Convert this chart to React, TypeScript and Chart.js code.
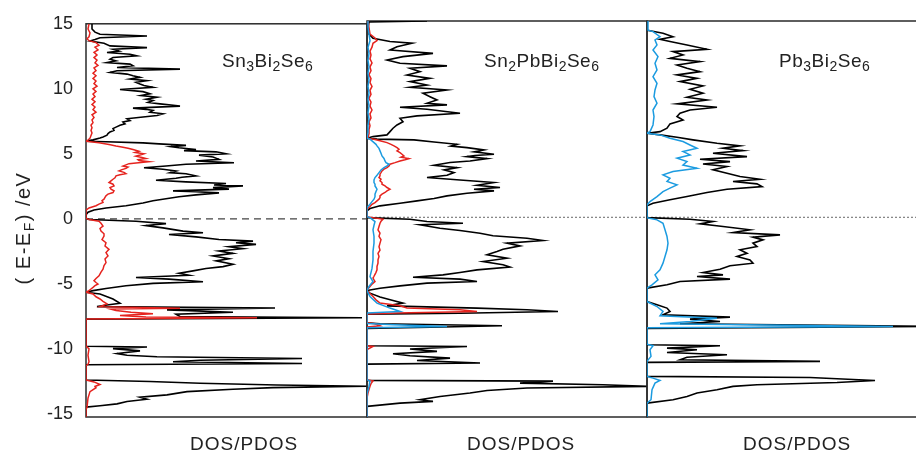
import React, { useEffect, useRef } from "react";
import { Chart, registerables } from "chart.js";
Chart.register(...registerables);

type Pt = [number, number]; // [energy (eV), DOS]

const energyTicks = [15, 10, 5, 0, -5, -10, -15];
const energyMin = -15.25;
const energyMax = 15;

const panelTitles: [string, boolean][][] = [
  [["Sn", false], ["3", true], ["Bi", false], ["2", true], ["Se", false], ["6", true]],
  [["Sn", false], ["2", true], ["PbBi", false], ["2", true], ["Se", false], ["6", true]],
  [["Pb", false], ["3", true], ["Bi", false], ["2", true], ["Se", false], ["6", true]],
];
const xAxisLabel = "DOS/PDOS";
const yAxisLabel: [string, boolean][] = [["( E-E", false], ["F", true], [") /eV", false]];

// ---------- Sn3Bi2Se6 ----------
const sn3Total: Pt[] = [
  [15, 6], [14.6, 6], [14.36, 9], [14.19, 14], [14.06, 61], [13.93, 14], [13.8, 9], [13.68, 4], [13.5, 18], [13.3, 24],
  [13.17, 61], [13.04, 27], [12.9, 33], [12.79, 21], [12.66, 44], [12.53, 51], [12.41, 27], [12.28, 24], [12.15, 30], [12.02, 21],
  [11.9, 44], [11.77, 47], [11.64, 31], [11.51, 94], [11.39, 31], [11.26, 24], [11.13, 41], [11.0, 47], [10.88, 54], [10.75, 44],
  [10.62, 61], [10.5, 50], [10.37, 54], [10.25, 58], [10.11, 67], [9.94, 34], [9.78, 57], [9.61, 64], [9.48, 55], [9.35, 71],
  [9.2, 60], [9.1, 67], [8.95, 62], [8.84, 74], [8.67, 94], [8.51, 47], [8.42, 60], [8.33, 67], [8.2, 64], [8.08, 77],
  [7.95, 71], [7.83, 57], [7.7, 41], [7.55, 44], [7.44, 37], [7.3, 39], [7.19, 34], [7.05, 30], [6.94, 27], [6.8, 28],
  [6.68, 24], [6.55, 22], [6.43, 21], [6.3, 17], [6.22, 14], [6.07, 7], [5.97, 0],
  [5.92, 20], [5.84, 57], [5.76, 73], [5.65, 100], [5.55, 85], [5.46, 93], [5.33, 110], [5.24, 98], [5.15, 130], [5.0, 140],
  [4.9, 113], [4.75, 127], [4.57, 133], [4.44, 110], [4.31, 148], [4.19, 100], [4.06, 80], [3.93, 58], [3.81, 77], [3.68, 90],
  [3.55, 84], [3.47, 100], [3.3, 110], [3.2, 96], [3.12, 90], [2.96, 70], [2.84, 100], [2.71, 140], [2.6, 128], [2.53, 157],
  [2.4, 127], [2.28, 143], [2.15, 87], [2.08, 110], [1.99, 133], [1.84, 110], [1.69, 93], [1.54, 80], [1.39, 67], [1.21, 57],
  [1.0, 40], [0.83, 20], [0.67, 8], [0.5, 2], [0.3, 0], [0.05, 0],
  [-0.06, 3], [-0.19, 50], [-0.37, 80], [-0.52, 60], [-0.7, 77], [-0.95, 97], [-1.08, 117], [-1.21, 83], [-1.39, 110], [-1.59, 133],
  [-1.72, 167], [-1.84, 150], [-1.97, 170], [-2.15, 143], [-2.3, 157], [-2.48, 133], [-2.66, 147], [-2.86, 127], [-3.07, 143], [-3.24, 130],
  [-3.5, 147], [-3.68, 137], [-3.83, 120], [-4.01, 107], [-4.19, 93], [-4.34, 103], [-4.52, 50], [-4.64, 83], [-4.85, 117], [-4.97, 67],
  [-5.15, 40], [-5.36, 20], [-5.53, 7], [-5.65, 0], [-5.79, 14],
  [-6.17, 27], [-6.5, 34], [-6.63, 21], [-6.76, 11], [-6.86, 189], [-7.01, 81], [-7.19, 147], [-7.35, 90], [-7.52, 94], [-7.62, 276],
  [-7.72, 0], [-9.81, 0], [-9.86, 61], [-9.99, 27], [-10.16, 54], [-10.37, 31], [-10.5, 41], [-10.62, 71], [-10.75, 216], [-10.88, 114],
  [-11.0, 87], [-11.13, 216], [-11.23, 0], [-12.4, 0], [-12.52, 64], [-12.65, 114], [-12.79, 191], [-12.89, 281], [-12.99, 187], [-13.12, 147],
  [-13.3, 101], [-13.55, 81], [-13.73, 54], [-13.88, 61], [-14.06, 41], [-14.24, 31], [-14.39, 14], [-14.49, 0], [-15.25, 0],
];
const sn3SnPdos: Pt[] = [
  [15, 3], [14.6, 2], [14.3, 4], [14.0, 3], [13.85, 1], [13.7, 3], [13.55, 10], [13.35, 13], [13.2, 9], [13.0, 12],
  [12.8, 8], [12.6, 11], [12.4, 8], [12.2, 11], [12.0, 9], [11.8, 12], [11.6, 8], [11.4, 10], [11.2, 7], [11.0, 10],
  [10.8, 7], [10.6, 10], [10.4, 8], [10.2, 11], [10.0, 7], [9.8, 10], [9.6, 7], [9.4, 9], [9.2, 6], [9.0, 9],
  [8.8, 6], [8.6, 9], [8.4, 7], [8.2, 10], [8.0, 6], [7.8, 8], [7.6, 6], [7.4, 7], [7.2, 5], [7.0, 6],
  [6.8, 5], [6.6, 6], [6.4, 5], [6.2, 4], [6.05, 2], [5.97, 0],
  [5.84, 13], [5.71, 23], [5.6, 30], [5.51, 37], [5.42, 42], [5.33, 47], [5.2, 53], [5.1, 49], [5.0, 58], [4.9, 54],
  [4.82, 50], [4.72, 56], [4.64, 60], [4.55, 52], [4.49, 53], [4.39, 63], [4.3, 50], [4.24, 43], [4.15, 40], [4.06, 37],
  [3.97, 42], [3.88, 40], [3.78, 36], [3.68, 33], [3.57, 38], [3.47, 40], [3.38, 34], [3.3, 30], [3.15, 29], [3.04, 27],
  [2.92, 25], [2.79, 23], [2.66, 27], [2.53, 28], [2.4, 24], [2.28, 25], [2.15, 28], [2.02, 27], [1.9, 22], [1.77, 20],
  [1.64, 19], [1.51, 18], [1.39, 16], [1.26, 17], [1.13, 13], [1.0, 10], [0.83, 3], [0.67, 0], [0.05, 0],
  [-0.06, 3], [-0.19, 13], [-0.35, 15], [-0.57, 17], [-0.75, 14], [-0.95, 15], [-1.15, 18], [-1.33, 18], [-1.6, 16], [-1.84, 20],
  [-2.1, 19], [-2.35, 23], [-2.6, 20], [-2.86, 22], [-3.1, 19], [-3.37, 20], [-3.6, 18], [-3.88, 17], [-4.1, 15], [-4.39, 13],
  [-4.6, 10], [-4.77, 8], [-4.9, 10], [-5.02, 12], [-5.15, 9], [-5.28, 7], [-5.4, 5], [-5.53, 3], [-5.65, 0], [-5.79, 7],
  [-6.0, 10], [-6.17, 14], [-6.35, 17], [-6.55, 21], [-6.76, 14], [-6.88, 94], [-6.95, 25], [-7.05, 30], [-7.2, 45], [-7.3, 67],
  [-7.45, 34], [-7.55, 60], [-7.62, 171], [-7.72, 0], [-9.8, 0], [-10.0, 3], [-10.5, 2], [-11.0, 3], [-11.2, 2], [-11.3, 0],
  [-12.4, 0], [-12.55, 8], [-12.75, 14], [-12.9, 9], [-13.0, 10], [-13.3, 4], [-13.8, 2], [-14.5, 1], [-14.7, 0], [-15.25, 0],
];

// ---------- Sn2PbBi2Se6 ----------
const sn2pbTotal: Pt[] = [
  [15, 60], [14.92, 2], [14.5, 1], [14.0, 2], [13.68, 6], [13.43, 23], [13.3, 45], [13.04, 30], [12.79, 23], [12.53, 66],
  [12.28, 36], [12.02, 20], [11.77, 33], [11.57, 80], [11.39, 43], [11.13, 53], [10.88, 40], [10.62, 63], [10.37, 43], [10.11, 60],
  [9.94, 43], [9.73, 80], [9.48, 56], [9.22, 63], [8.97, 70], [8.72, 60], [8.59, 80], [8.41, 33], [8.26, 60], [7.95, 93],
  [7.75, 50], [7.57, 33], [7.31, 36], [7.06, 30], [6.81, 26], [6.55, 23], [6.3, 20], [6.17, 6], [6.04, 0],
  [5.98, 10], [5.92, 47], [5.76, 67], [5.58, 90], [5.45, 84], [5.33, 100], [5.15, 117], [5.0, 107], [4.82, 127], [4.72, 108],
  [4.64, 100], [4.49, 120], [4.31, 103], [4.19, 83], [3.98, 67], [3.8, 90], [3.63, 77], [3.42, 87], [3.22, 80], [3.04, 60],
  [2.86, 93], [2.66, 127], [2.45, 110], [2.28, 133], [2.15, 107], [2.02, 127], [1.84, 100], [1.64, 80], [1.44, 67], [1.26, 50],
  [1.08, 33], [0.88, 13], [0.67, 3], [0.5, 0], [0.05, 0],
  [-0.02, 0], [-0.14, 43], [-0.32, 60], [-0.45, 96], [-0.57, 53], [-0.83, 73], [-1.0, 93], [-1.21, 113], [-1.41, 126], [-1.59, 160],
  [-1.77, 176], [-1.97, 140], [-2.18, 153], [-2.43, 136], [-2.61, 130], [-2.86, 120], [-3.12, 140], [-3.37, 116], [-3.62, 136], [-3.8, 143],
  [-4.01, 110], [-4.21, 93], [-4.39, 76], [-4.57, 46], [-4.72, 93], [-4.9, 110], [-5.02, 60], [-5.23, 33], [-5.41, 13], [-5.59, 0],
  [-5.79, 3], [-6.09, 13], [-6.35, 26], [-6.55, 36], [-6.76, 20], [-6.93, 110], [-7.06, 160], [-7.19, 191], [-7.32, 93], [-7.39, 0],
  [-8.05, 0], [-8.13, 13], [-8.28, 135], [-8.38, 76], [-8.48, 0], [-9.81, 0], [-9.86, 100], [-10.06, 43], [-10.24, 70], [-10.42, 26],
  [-10.57, 43], [-10.75, 83], [-10.93, 50], [-11.13, 113], [-11.21, 0], [-12.45, 0], [-12.51, 186], [-12.66, 153], [-12.79, 236], [-12.91, 280],
  [-13.04, 160], [-13.22, 120], [-13.42, 103], [-13.68, 73], [-13.93, 53], [-14.06, 66], [-14.19, 33], [-14.44, 0], [-15.25, 0],
];
const sn2pbSnPdos: Pt[] = [
  [15, 1], [14.5, 2], [14.0, 3], [13.7, 8], [13.5, 10], [13.3, 6], [13.0, 5], [12.7, 3], [12.4, 4], [12.1, 3],
  [11.8, 5], [11.5, 3], [11.2, 4], [10.9, 2], [10.6, 4], [10.3, 3], [10.0, 5], [9.7, 3], [9.4, 4], [9.1, 2],
  [8.8, 4], [8.5, 3], [8.2, 5], [7.9, 3], [7.6, 4], [7.3, 2], [7.0, 3], [6.7, 2], [6.4, 2], [6.1, 1], [6.04, 0],
  [5.97, 7], [5.84, 14], [5.71, 20], [5.58, 24], [5.46, 27], [5.33, 30], [5.2, 32], [5.08, 30], [4.95, 33], [4.82, 35],
  [4.69, 37], [4.6, 34], [4.49, 42], [4.4, 38], [4.31, 33], [4.18, 28], [4.06, 23], [3.93, 22], [3.8, 20], [3.68, 17],
  [3.55, 15], [3.42, 14], [3.3, 13], [3.17, 13], [3.04, 12], [2.92, 14], [2.79, 13], [2.66, 15], [2.53, 15], [2.4, 18],
  [2.28, 20], [2.15, 23], [2.02, 20], [1.9, 18], [1.77, 15], [1.64, 13], [1.51, 13], [1.39, 12], [1.26, 10], [1.13, 8],
  [1.0, 5], [0.83, 3], [0.62, 0], [0.05, 0],
  [-0.02, 6], [-0.14, 16], [-0.3, 14], [-0.45, 13], [-0.7, 12], [-0.95, 11], [-1.2, 13], [-1.45, 12], [-1.7, 14], [-1.97, 13],
  [-2.25, 12], [-2.5, 13], [-2.75, 11], [-2.99, 12], [-3.25, 11], [-3.5, 11], [-3.75, 10], [-4.01, 10], [-4.2, 9], [-4.35, 8],
  [-4.5, 7], [-4.64, 6], [-4.78, 7], [-4.9, 8], [-5.1, 5], [-5.28, 3], [-5.45, 1], [-5.59, 0], [-6.04, 6], [-6.3, 9],
  [-6.55, 13], [-6.76, 33], [-6.93, 40], [-7.06, 93], [-7.19, 110], [-7.3, 30], [-7.39, 0], [-8.05, 0], [-8.13, 8], [-8.28, 13],
  [-8.38, 0], [-9.8, 0], [-9.86, 6], [-10.1, 0], [-12.4, 0], [-12.5, 6], [-12.7, 4], [-12.9, 3], [-13.4, 1], [-13.8, 0],
  [-15.25, 0],
];
const sn2pbPbPdos: Pt[] = [
  [15, 1], [14.5, 1], [14.0, 2], [13.5, 3], [13.0, 1], [12.5, 2], [12.0, 1], [11.5, 2], [11.0, 1], [10.5, 2],
  [10.0, 1], [9.5, 2], [9.0, 1], [8.5, 2], [8.0, 1], [7.5, 2], [7.0, 1], [6.5, 1], [6.04, 0],
  [5.97, 3], [5.84, 5], [5.71, 7], [5.58, 9], [5.46, 10], [5.27, 12], [5.08, 13], [4.9, 14], [4.69, 15], [4.5, 17],
  [4.31, 18], [4.18, 19], [4.06, 22], [3.93, 20], [3.8, 17], [3.62, 14], [3.42, 12], [3.22, 10], [3.04, 8], [2.86, 7],
  [2.66, 7], [2.53, 8], [2.4, 8], [2.28, 9], [2.15, 10], [1.97, 9], [1.77, 8], [1.58, 8], [1.39, 7], [1.2, 5],
  [1.0, 3], [0.75, 0], [0.05, 0],
  [-0.02, 3], [-0.32, 8], [-0.6, 7], [-0.95, 6], [-1.45, 7], [-1.97, 7], [-2.6, 6], [-3.25, 6], [-3.9, 5], [-4.52, 3],
  [-4.9, 6], [-5.28, 2], [-5.59, 0], [-6.04, 3], [-6.55, 10], [-6.93, 23], [-7.19, 33], [-7.3, 0], [-8.1, 0], [-8.2, 26],
  [-8.33, 80], [-8.43, 0], [-12.4, 0], [-12.5, 3], [-12.9, 2], [-13.5, 0], [-15.25, 0],
];

// ---------- Pb3Bi2Se6 ----------
const pb3Total: Pt[] = [
  [15, 0], [14.3, 0], [14.26, 3], [14.06, 16], [13.8, 26], [13.6, 13], [13.43, 23], [13.17, 40], [12.84, 60], [12.66, 26],
  [12.41, 36], [12.15, 23], [11.9, 53], [11.64, 30], [11.39, 40], [11.13, 53], [10.88, 30], [10.62, 50], [10.37, 33], [10.04, 56],
  [9.78, 43], [9.48, 56], [9.17, 40], [8.97, 60], [8.67, 30], [8.41, 70], [8.2, 43], [7.95, 33], [7.7, 30], [7.44, 36],
  [7.14, 23], [6.81, 20], [6.55, 13], [6.43, 0],
  [6.3, 13], [6.12, 30], [5.92, 46], [5.66, 70], [5.46, 93], [5.28, 76], [5.1, 96], [4.9, 66], [4.64, 100], [4.44, 53],
  [4.26, 83], [4.08, 56], [3.88, 80], [3.63, 66], [3.37, 80], [3.12, 93], [2.91, 113], [2.74, 86], [2.56, 110], [2.35, 115],
  [2.15, 80], [1.9, 60], [1.59, 40], [1.34, 23], [1.08, 6], [0.88, 0], [0.05, 0],
  [-0.02, 0], [-0.14, 43], [-0.32, 66], [-0.5, 53], [-0.7, 76], [-0.95, 103], [-1.16, 86], [-1.34, 133], [-1.51, 106], [-1.72, 116],
  [-1.97, 106], [-2.23, 110], [-2.48, 93], [-2.74, 100], [-2.99, 90], [-3.25, 103], [-3.5, 106], [-3.7, 83], [-3.96, 73], [-4.21, 56],
  [-4.39, 76], [-4.52, 50], [-4.72, 83], [-4.9, 33], [-5.15, 20], [-5.41, 0], [-6.43, 0], [-6.68, 10], [-6.93, 20], [-7.19, 23],
  [-7.44, 16], [-7.62, 83], [-7.77, 43], [-7.95, 73], [-8.13, 33], [-8.33, 300], [-8.49, 0], [-9.73, 0], [-9.81, 73], [-9.99, 20],
  [-10.11, 50], [-10.32, 20], [-10.5, 80], [-10.68, 40], [-10.88, 33], [-11.0, 173], [-11.08, 0], [-12.15, 0], [-12.23, 163], [-12.46, 228],
  [-12.61, 190], [-12.79, 110], [-12.91, 86], [-13.17, 70], [-13.42, 50], [-13.68, 40], [-13.93, 26], [-14.19, 0], [-15.25, 0],
];
const pb3PbPdos: Pt[] = [
  [15, 1], [14.3, 1], [14.19, 6], [13.8, 13], [13.55, 8], [13.17, 10], [12.79, 6], [12.28, 11], [11.77, 8], [11.26, 10],
  [10.75, 6], [10.24, 10], [9.73, 8], [9.22, 7], [8.72, 10], [8.2, 6], [7.7, 7], [7.06, 6], [6.55, 3], [6.43, 0],
  [6.3, 13], [6.04, 23], [5.79, 36], [5.53, 43], [5.28, 50], [5.03, 36], [4.77, 43], [4.52, 30], [4.26, 40], [4.0, 36],
  [3.75, 50], [3.5, 26], [3.25, 16], [2.99, 23], [2.74, 20], [2.48, 30], [2.23, 23], [1.97, 16], [1.59, 10], [1.21, 3],
  [0.95, 0], [0.05, 0],
  [-0.02, 0], [-0.19, 10], [-0.45, 16], [-0.95, 18], [-1.46, 20], [-1.97, 21], [-2.48, 20], [-2.99, 18], [-3.5, 16], [-4.01, 13],
  [-4.39, 8], [-4.77, 11], [-5.15, 5], [-5.41, 0], [-6.43, 0], [-6.81, 10], [-7.19, 16], [-7.52, 13], [-7.7, 70], [-7.95, 43],
  [-8.13, 13], [-8.33, 246], [-8.43, 0], [-9.7, 0], [-9.81, 6], [-10.11, 3], [-10.62, 4], [-11.0, 0], [-12.15, 0], [-12.28, 6],
  [-12.46, 13], [-12.66, 8], [-13.17, 5], [-13.93, 4], [-14.19, 0], [-15.25, 0],
];

const RED = "#e5231e";
const BLUE = "#1b9be0";
const FONT = "'Liberation Sans', Arial, Helvetica, sans-serif";

const toXY = (pts: Pt[]) => pts.map(([e, d]) => ({ x: d, y: e }));

function drawRich(ctx: CanvasRenderingContext2D, parts: [string, boolean][], x: number, y: number, size: number, spacing: number) {
  let cx = x;
  for (const [txt, sub] of parts) {
    const fs = sub ? Math.round(size * 0.72) : size;
    ctx.font = `${fs}px ${FONT}`;
    (ctx as any).letterSpacing = `${spacing}px`;
    ctx.fillText(txt, cx, sub ? y + 4 : y);
    cx += ctx.measureText(txt).width;
  }
  (ctx as any).letterSpacing = "0px";
  return cx - x;
}

interface PanelProps {
  left: number;
  canvasWidth: number;
  withAxis: boolean;
  xMax: number;
  total: Pt[];
  pdos: { pts: Pt[]; color: string }[];
  title: [string, boolean][];
  titleDx: number;
  labelDx: number;
  zeroDash: number[];
  zeroColor: string;
}

function Panel(p: PanelProps) {
  const ref = useRef<HTMLCanvasElement>(null);
  useEffect(() => {
    const canvas = ref.current!;
    const overlay = {
      id: "overlay",
      beforeDatasetsDraw(chart: any) {
        const { ctx, chartArea: a } = chart;
        ctx.save();
        ctx.strokeStyle = "#2a2a2a";
        ctx.lineWidth = 1.5;
        ctx.strokeRect(a.left, a.top, a.right - a.left, a.bottom - a.top);
        ctx.restore();
      },
      afterDraw(chart: any) {
        const { ctx, chartArea: a } = chart;
        ctx.save();
        ctx.fillStyle = "#222";
        ctx.textBaseline = "alphabetic";
        ctx.textAlign = "left";
        drawRich(ctx, p.title, a.left + p.titleDx, 67, 19, 0.5);
        drawRich(ctx, [[xAxisLabel, false]], a.left + p.labelDx, 450, 19, 1);
        if (p.withAxis) {
          ctx.translate(30, 228);
          ctx.rotate(-Math.PI / 2);
          let w = 0;
          for (const [t, s] of yAxisLabel) {
            ctx.font = `${s ? 14 : 20}px ${FONT}`;
            (ctx as any).letterSpacing = "1.5px";
            w += ctx.measureText(t).width;
          }
          drawRich(ctx, yAxisLabel, -w / 2, 0, 20, 1.5);
        }
        ctx.restore();
      },
    };
    const datasets: any[] = [];
    for (const s of p.pdos) {
      datasets.push({ data: toXY(s.pts), borderColor: s.color, borderWidth: 1.5 });
    }
    datasets.push({ data: toXY(p.total), borderColor: "#000", borderWidth: 1.6 });
    datasets.push({
      data: [{ x: 0, y: 0 }, { x: p.xMax, y: 0 }],
      borderColor: p.zeroColor,
      borderWidth: 1.3,
      borderDash: p.zeroDash,
    });
    const chart = new Chart(canvas, {
      type: "scatter",
      data: {
        datasets: datasets.map((d) => ({
          ...d,
          showLine: true,
          pointRadius: 0,
          pointHoverRadius: 0,
          fill: false,
          tension: 0,
        })),
      },
      options: {
        animation: false,
        responsive: false,
        maintainAspectRatio: false,
        events: [],
        layout: { padding: { top: 21, bottom: 35, left: p.withAxis ? 0 : 5, right: 5 } },
        plugins: { legend: { display: false }, tooltip: { enabled: false } },
        scales: {
          x: { type: "linear", min: 0, max: p.xMax, display: false },
          y: {
            type: "linear",
            min: energyMin,
            max: energyMax,
            display: p.withAxis,
            afterFit: (s: any) => {
              s.width = p.withAxis ? 86 : 0;
            },
            afterBuildTicks: (s: any) => {
              s.ticks = energyTicks.map((v) => ({ value: v }));
            },
            grid: { display: false, drawTicks: false },
            border: { display: false },
            ticks: {
              padding: 13,
              autoSkip: false,
              color: "#222",
              font: { family: FONT, size: 18 },
            },
          },
        },
      } as any,
      plugins: [overlay],
    });
    return () => chart.destroy();
  }, []);
  return (
    <canvas
      ref={ref}
      width={p.canvasWidth}
      height={452}
      style={{ position: "absolute", left: p.left, top: 0, width: p.canvasWidth, height: 452 }}
    />
  );
}

export default function App() {
  return (
    <div
      style={{
        position: "absolute",
        left: 0,
        top: 0,
        width: 916,
        height: 452,
        overflow: "hidden",
        background: "#fff",
      }}
    >
      <Panel
        left={0}
        canvasWidth={372}
        withAxis={true}
        xMax={281}
        total={sn3Total}
        pdos={[{ pts: sn3SnPdos, color: RED }]}
        title={panelTitles[0]}
        titleDx={136}
        labelDx={104}
        zeroDash={[7, 5]}
        zeroColor="#444"
      />
      <Panel
        left={362}
        canvasWidth={290}
        withAxis={false}
        xMax={280}
        total={sn2pbTotal}
        pdos={[{ pts: sn2pbPbPdos, color: BLUE }, { pts: sn2pbSnPdos, color: RED }]}
        title={panelTitles[1]}
        titleDx={117}
        labelDx={100}
        zeroDash={[2, 2]}
        zeroColor="#888"
      />
      <Panel
        left={642}
        canvasWidth={290}
        withAxis={false}
        xMax={280}
        total={pb3Total}
        pdos={[{ pts: pb3PbPdos, color: BLUE }]}
        title={panelTitles[2]}
        titleDx={132}
        labelDx={96}
        zeroDash={[2, 2]}
        zeroColor="#888"
      />
    </div>
  );
}
